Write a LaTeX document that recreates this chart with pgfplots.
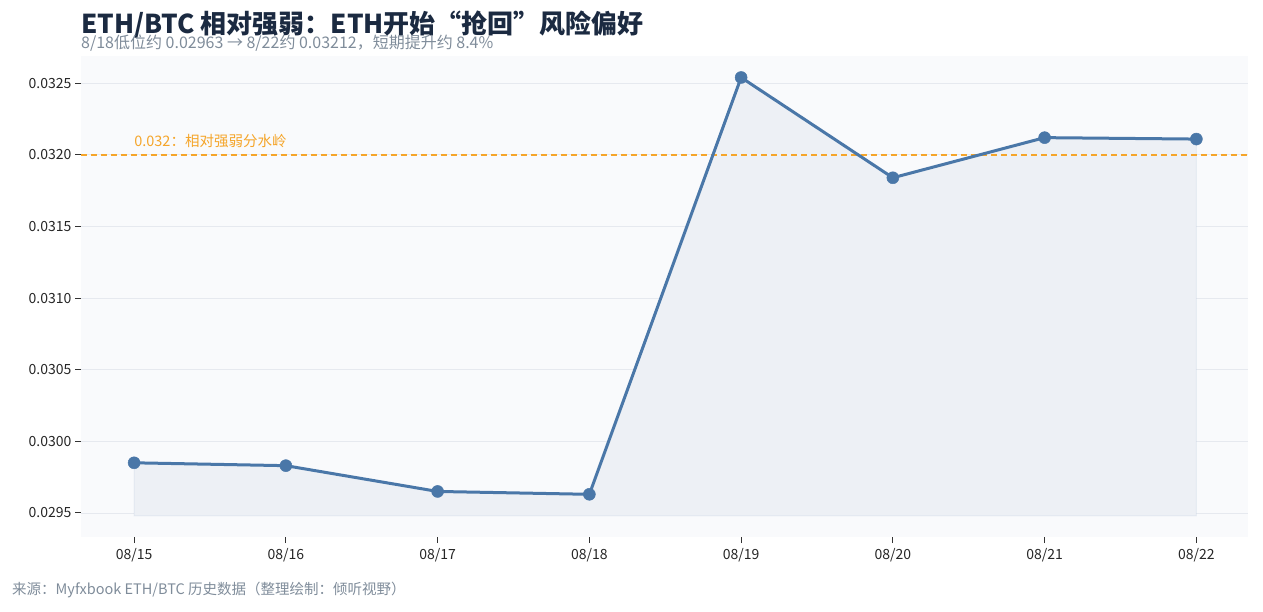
\documentclass[border=0pt]{standalone}
\usepackage{pgfplots}
\pgfplotsset{compat=1.18}
\usepackage{fontspec}
\setmainfont{Noto Sans CJK SC}
\definecolor{lc}{HTML}{4A77A8}
\definecolor{bgc}{HTML}{F9FAFC}
\definecolor{gridc}{HTML}{E6E9EF}
\definecolor{refc}{HTML}{F5A52A}
\definecolor{titlec}{HTML}{1B2A41}
\definecolor{subc}{HTML}{7F8C9A}
\definecolor{fillc}{HTML}{EDF0F5}
\begin{document}
\begin{tikzpicture}[x=1pt,y=1pt]
\useasboundingbox (0,0) rectangle (1263,611);
\node[anchor=base west, inner sep=0, text=titlec, font=\fontsize{26}{28}\selectfont\bfseries] at (81,577) {ETH/BTC 相对强弱：ETH开始“抢回”风险偏好};
\node[anchor=base west, inner sep=0, text=subc, font=\fontsize{16}{18}\selectfont] at (81,562) {8/18低位约 0.02963 → 8/22约 0.03212，短期提升约 8.4\%};
\node[anchor=base west, inner sep=0, text=subc, font=\fontsize{14.5}{16}\selectfont] at (12,17) {来源：Myfxbook ETH/BTC 历史数据（整理绘制：倾听视野）};
\begin{axis}[
  at={(81pt,74pt)}, anchor=south west, scale only axis,
  width=1167pt, height=481pt,
  xmin=-0.35, xmax=7.34, ymin=0.029332, ymax=0.03269,
  axis background/.style={fill=bgc},
  axis line style={draw=none},
  xtick={0,...,7},
  xticklabels={08/15,08/16,08/17,08/18,08/19,08/20,08/21,08/22},
  ytick={0.0295,0.0300,0.0305,0.0310,0.0315,0.0320,0.0325},
  scaled y ticks=false,
  yticklabel style={/pgf/number format/.cd, fixed, fixed zerofill, precision=4, assume math mode=true},
  ticklabel style={font=\fontsize{14}{16}\selectfont, text=black!85},
  tick align=outside, major tick length=6pt,
  tick style={black!80, line width=1pt},
  xtick pos=bottom, ytick pos=left,
  ymajorgrids, grid style={gridc, line width=0.8pt},
  xticklabel style={yshift=-2pt},
  clip=false,
]
\addplot[draw=lc, draw opacity=0.08, fill=fillc, line width=1pt] coordinates {(0,0.02948) (0,0.02985) (1,0.02983) (2,0.02965) (3,0.02963) (4,0.03254) (5,0.03184) (6,0.03212) (7,0.03211) (7,0.02948)} -- cycle;
\addplot[refc, line width=1.5pt, dash pattern=on 6pt off 4pt] coordinates {(-0.35,0.0320) (7.34,0.0320)};
\addplot[lc, line width=3pt, mark=*, mark size=6pt, mark options={solid, fill=lc, draw=lc, line width=0.5pt}] coordinates {(0,0.02985) (1,0.02983) (2,0.02965) (3,0.02963) (4,0.03254) (5,0.03184) (6,0.03212) (7,0.03211)};
\node[anchor=base west, inner sep=0, text=refc, font=\fontsize{14.5}{16}\selectfont] at (axis cs:0,0.032055) {0.032：相对强弱分水岭};
\end{axis}
\end{tikzpicture}
\end{document}
